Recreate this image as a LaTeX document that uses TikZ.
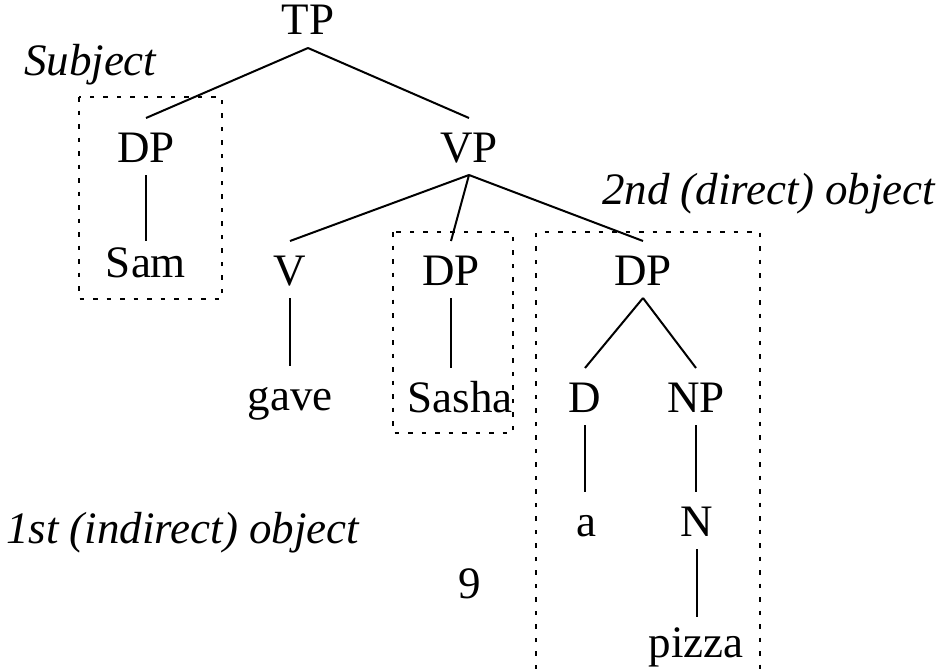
\documentclass[tikz,border=0pt]{standalone}
\usepackage{fontspec}
\setmainfont{Liberation Serif}
\begin{document}
\begin{tikzpicture}[x=1pt,y=-1pt,
  every node/.style={inner sep=0pt, outer sep=0pt, font=\fontsize{45}{54}\selectfont},
  lab/.style={anchor=base, text height=44pt, text depth=13pt},
  note/.style={anchor=base west, font=\fontsize{45}{54}\selectfont\itshape},
  branch/.style={line width=2pt},
  group/.style={line width=2pt, dash pattern=on 4.5pt off 9pt}]
\useasboundingbox (0,0) rectangle (945,669);
% tree nodes
\node[lab] (tp) at (308,35) {TP};
\node[lab] (dps) at (146,162) {DP};
\node[lab, text height=36pt] (sam) at (146,277) {Sam};
\node[lab] (vp) at (469,162) {VP};
\node[lab] (v) at (290,285) {V};
\node[lab] (dpi) at (451,285) {DP};
\node[lab] (dpd) at (643,285) {DP};
\node[lab] (gave) at (290,410) {gave};
\node[lab] (sasha) at (460,412) {Sasha};
\node[lab] (d) at (585,412) {D};
\node[lab] (np) at (696,412) {NP};
\node[lab] (a) at (586,536) {a};
\node[lab] (n) at (697,536) {N};
\node[lab, text height=40pt] (pizza) at (696,657) {pizza};
\node[lab] (nine) at (470,598) {9};
% annotations
\node[note] (subj) at (24,75) {Subject};
\node[note] (io) at (6,543) {1st (indirect) object};
\node[note] (do) at (602,204) {2nd (direct) object};
% branches
\draw[branch] (tp.south) -- (dps.north);
\draw[branch] (tp.south) -- (vp.north);
\draw[branch] (dps.south) -- (sam.north);
\draw[branch] (vp.south) -- (v.north);
\draw[branch] (vp.south) -- (dpi.north);
\draw[branch] (vp.south) -- (dpd.north);
\draw[branch] (v.south) -- (v.south |- gave.north);
\draw[branch] (dpi.south) -- (dpi.south |- sasha.north);
\draw[branch] (dpd.south) -- (d.north);
\draw[branch] (dpd.south) -- (np.north);
\draw[branch] (d.south) -- (d.south |- a.north);
\draw[branch] (np.south) -- (np.south |- n.north);
\draw[branch] (n.south) -- (n.south |- pizza.north);
% dotted boxes
\draw[group] (79,97) rectangle (222,299);
\draw[group] (393,232) rectangle (513,433);
\draw[group] (536,669) -- (536,232) -- (760,232) -- (760,669);
\end{tikzpicture}
\end{document}
